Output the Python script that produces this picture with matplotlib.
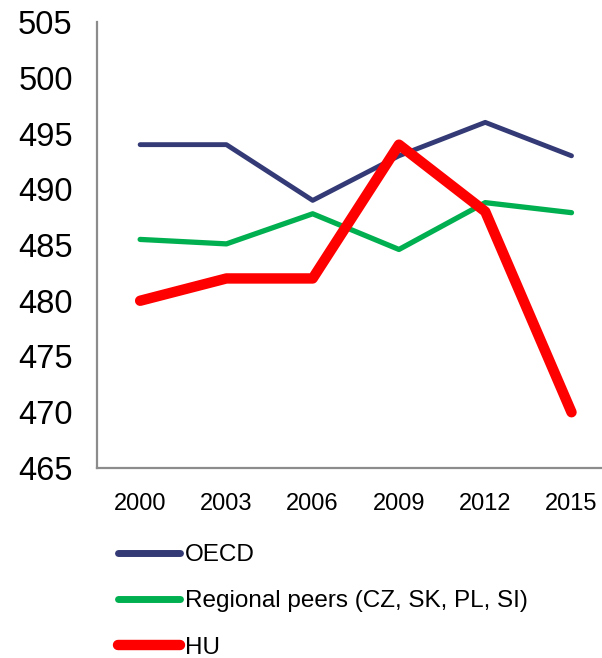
import matplotlib
matplotlib.use("Agg")
import matplotlib.pyplot as plt
from matplotlib.lines import Line2D

plt.rcParams['font.family'] = ['Liberation Sans', 'DejaVu Sans']

years = ["2000", "2003", "2006", "2009", "2012", "2015"]
oecd = [494, 494, 489, 493, 496, 493]
peers = [485.5, 485.1, 487.8, 484.6, 488.8, 487.9]
hu = [480, 482, 482, 494, 488, 470]
labels = ["OECD", "Regional peers (CZ, SK, PL, SI)", "HU"]
colors = ["#333a75", "#00b050", "#ff0000"]
widths = [3.5, 3.8, 7.5]
yticks = [465, 470, 475, 480, 485, 490, 495, 500, 505]

fig = plt.figure(figsize=(6.02, 6.58), dpi=100)
ax = fig.add_axes([97/602, 1-468/658, 1-97/602, (468-22)/658])

x = list(range(len(years)))
series = [oecd, peers, hu]
for s, lab, c, w in zip(series, labels, colors, widths):
    ax.plot(x, s, color=c, lw=w, label=lab, solid_joinstyle='round',
            solid_capstyle='round')

ax.set_ylim(465, 505)
ax.set_yticks(yticks)
ax.set_xlim(-0.5, (602-140)/86.3)
ax.set_xticks(x)
ax.set_xticklabels(years)
ax.tick_params(axis='y', length=0, labelsize=23.5, pad=17.5)
ax.tick_params(axis='x', length=0, labelsize=17, pad=18)
for sp in ['top', 'right']:
    ax.spines[sp].set_visible(False)
for sp in ['left', 'bottom']:
    ax.spines[sp].set_color('#8c8c8c')
    ax.spines[sp].set_linewidth(1.6)

handles = [Line2D([0], [0], color=c, lw=5 if i < 2 else 7.5, solid_capstyle='round')
           for i, c in enumerate(colors)]
fig.legend(handles, labels, loc='upper left', bbox_to_anchor=(118/602, 1-544/658),
           frameon=False, fontsize=17.5, handlelength=2.55, handletextpad=0.2,
           labelspacing=1.0, borderpad=0, borderaxespad=0)

fig.savefig("out.png", dpi=100)
